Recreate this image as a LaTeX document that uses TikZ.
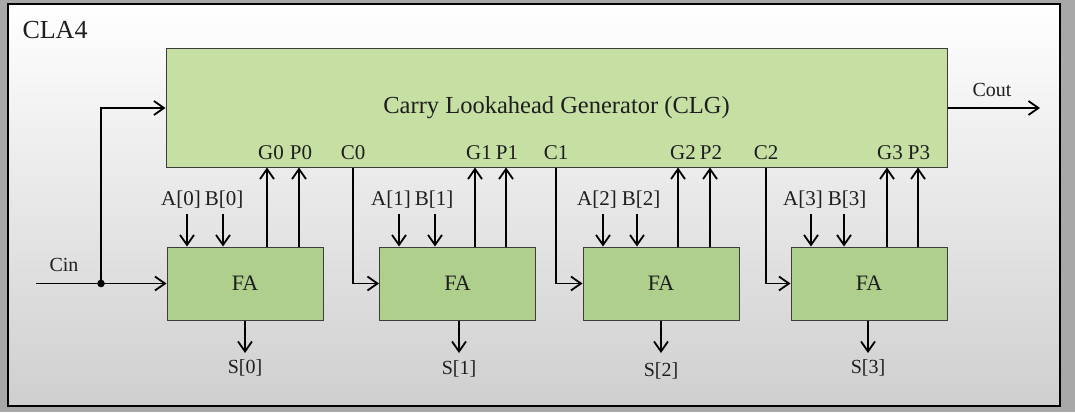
\documentclass[tikz,border=0pt]{standalone}
\usepackage{fontspec}
\setmainfont{Liberation Serif}
\usetikzlibrary{arrows.meta}
\definecolor{clgfill}{HTML}{C6E0A4}
\definecolor{fafill}{HTML}{AFCF8C}
\definecolor{boxline}{HTML}{3C3C3C}
\definecolor{outside}{HTML}{A8A8A8}
\definecolor{txt}{HTML}{1E1E1E}
\definecolor{bottomgray}{HTML}{CFCFCF}
\tikzset{
  arr/.style={line width=1.8pt, -{Straight Barb[length=10pt,width=14pt,line width=1.8pt]}},
  fabox/.style={draw=boxline, line width=1pt, fill=fafill, minimum width=156pt, minimum height=73pt, inner sep=0pt, text=txt, font=\fontsize{22}{25}\selectfont},
  clgbox/.style={draw=boxline, line width=1pt, fill=clgfill, minimum width=781pt, minimum height=118pt, inner sep=0pt, text=txt, font=\fontsize{24.5}{28}\selectfont},
  lbl/.style={inner sep=0pt, text=txt, font=\fontsize{21}{24}\selectfont},
  sig/.style={inner sep=0pt, text=txt, font=\fontsize{20}{23}\selectfont},
}
\begin{document}
\begin{tikzpicture}[x=1pt,y=-1pt]
\useasboundingbox (0,0) rectangle (1075,412);
\fill[outside] (0,0) rectangle (1075,412);
\shade[top color=white, middle color=white!97!black, bottom color=bottomgray] (8,4) rectangle (1060,406);
\draw[black, line width=2.2pt] (8,4) rectangle (1060,406);

\node[inner sep=0pt, text=txt, font=\fontsize{26}{29}\selectfont] (title) at (55,30) {CLA4};

\node[clgbox] (clg) at (556.5,108) {Carry Lookahead Generator (CLG)};

\node[fabox] (fa0) at (245,283.5) {FA};
\node[fabox] (fa1) at (457.5,283.5) {FA};
\node[fabox] (fa2) at (661,283.5) {FA};
\node[fabox] (fa3) at (869,283.5) {FA};

% Cin
\node[sig] (cinl) at (64,265) {Cin};
\coordinate (cins) at (36,283.5);
\coordinate (dot) at (101,283.5);
\draw[arr] (cins) -- (fa0.west);
\draw[arr] (dot) |- (clg.west);
\fill (dot) circle (3.8pt);

% Cout
\node[sig] (coutl) at (992,90) {Cout};
\coordinate (coute) at (1040,108);
\draw[arr] (clg.east) -- (coute);

% A/B inputs
\foreach \i/\ax/\bx/\alx/\blx in {0/187/223/181/224, 1/399/435/391/434, 2/603/637/597/641, 3/811/844/803/847}{
  \node[lbl] (al\i) at (\alx,200) {A[\i]};
  \node[lbl] (bl\i) at (\blx,200) {B[\i]};
  \coordinate (as\i) at (\ax,214);
  \coordinate (bs\i) at (\bx,214);
  \draw[arr] (as\i) -- (as\i |- fa\i.north);
  \draw[arr] (bs\i) -- (bs\i |- fa\i.north);
}

% G/P outputs
\foreach \i/\gx/\px/\glx/\plx in {0/267/299/271/301, 1/475/506/479/507, 2/678/710/683/711, 3/887/918/890/919}{
  \node[lbl] (gl\i) at (\glx,153) {G\i};
  \node[lbl] (pl\i) at (\plx,153) {P\i};
  \coordinate (gx\i) at (\gx,0);
  \coordinate (px\i) at (\px,0);
  \draw[arr] (gx\i |- fa\i.north) -- (gx\i |- clg.south);
  \draw[arr] (px\i |- fa\i.north) -- (px\i |- clg.south);
}

% Carries
\foreach \i/\cx/\n in {0/353/1, 1/556/2, 2/766/3}{
  \node[lbl] (cl\i) at (\cx,153) {C\i};
  \coordinate (cx\i) at (\cx,0);
  \draw[arr] (cx\i |- clg.south) |- (fa\n.west);
}

% Sums
\foreach \i/\sx/\sy in {0/245/368, 1/459/369, 2/661/371, 3/868/368}{
  \node[sig] (sl\i) at (\sx,\sy) {S[\i]};
  \coordinate (se\i) at (\sx,353);
  \draw[arr] (se\i |- fa\i.south) -- (se\i);
}
\end{tikzpicture}
\end{document}
